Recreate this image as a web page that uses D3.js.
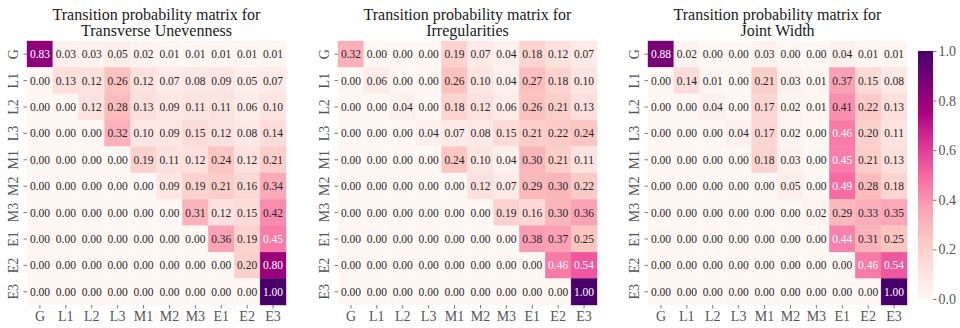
<!DOCTYPE html>
<html>
<head>
<meta charset="utf-8">
<script src="https://cdn.jsdelivr.net/npm/d3@7"></script>
<style>
  html, body { margin: 0; padding: 0; background: #fff; }
  svg { display: block; }
  svg text { font-family: "Liberation Serif", "Times New Roman", serif; }
</style>
</head>
<body>
<svg id="chart" width="960" height="328"></svg>
<script>
// Condition states, in transition order
const states = ["G", "L1", "L2", "L3", "M1", "M2", "M3", "E1", "E2", "E3"];

// Transition probability matrices (row = from state, column = to state)
const transverseUnevenness = [
  [0.83, 0.03, 0.03, 0.05, 0.02, 0.01, 0.01, 0.01, 0.01, 0.01],
  [0.00, 0.13, 0.12, 0.26, 0.12, 0.07, 0.08, 0.09, 0.05, 0.07],
  [0.00, 0.00, 0.12, 0.28, 0.13, 0.09, 0.11, 0.11, 0.06, 0.10],
  [0.00, 0.00, 0.00, 0.32, 0.10, 0.09, 0.15, 0.12, 0.08, 0.14],
  [0.00, 0.00, 0.00, 0.00, 0.19, 0.11, 0.12, 0.24, 0.12, 0.21],
  [0.00, 0.00, 0.00, 0.00, 0.00, 0.09, 0.19, 0.21, 0.16, 0.34],
  [0.00, 0.00, 0.00, 0.00, 0.00, 0.00, 0.31, 0.12, 0.15, 0.42],
  [0.00, 0.00, 0.00, 0.00, 0.00, 0.00, 0.00, 0.36, 0.19, 0.45],
  [0.00, 0.00, 0.00, 0.00, 0.00, 0.00, 0.00, 0.00, 0.20, 0.80],
  [0.00, 0.00, 0.00, 0.00, 0.00, 0.00, 0.00, 0.00, 0.00, 1.00]
];

const irregularities = [
  [0.32, 0.00, 0.00, 0.00, 0.19, 0.07, 0.04, 0.18, 0.12, 0.07],
  [0.00, 0.06, 0.00, 0.00, 0.26, 0.10, 0.04, 0.27, 0.18, 0.10],
  [0.00, 0.00, 0.04, 0.00, 0.18, 0.12, 0.06, 0.26, 0.21, 0.13],
  [0.00, 0.00, 0.00, 0.04, 0.07, 0.08, 0.15, 0.21, 0.22, 0.24],
  [0.00, 0.00, 0.00, 0.00, 0.24, 0.10, 0.04, 0.30, 0.21, 0.11],
  [0.00, 0.00, 0.00, 0.00, 0.00, 0.12, 0.07, 0.29, 0.30, 0.22],
  [0.00, 0.00, 0.00, 0.00, 0.00, 0.00, 0.19, 0.16, 0.30, 0.36],
  [0.00, 0.00, 0.00, 0.00, 0.00, 0.00, 0.00, 0.38, 0.37, 0.25],
  [0.00, 0.00, 0.00, 0.00, 0.00, 0.00, 0.00, 0.00, 0.46, 0.54],
  [0.00, 0.00, 0.00, 0.00, 0.00, 0.00, 0.00, 0.00, 0.00, 1.00]
];

const jointWidth = [
  [0.88, 0.02, 0.00, 0.00, 0.03, 0.00, 0.00, 0.04, 0.01, 0.01],
  [0.00, 0.14, 0.01, 0.00, 0.21, 0.03, 0.01, 0.37, 0.15, 0.08],
  [0.00, 0.00, 0.04, 0.00, 0.17, 0.02, 0.01, 0.41, 0.22, 0.13],
  [0.00, 0.00, 0.00, 0.04, 0.17, 0.02, 0.00, 0.46, 0.20, 0.11],
  [0.00, 0.00, 0.00, 0.00, 0.18, 0.03, 0.00, 0.45, 0.21, 0.13],
  [0.00, 0.00, 0.00, 0.00, 0.00, 0.05, 0.00, 0.49, 0.28, 0.18],
  [0.00, 0.00, 0.00, 0.00, 0.00, 0.00, 0.02, 0.29, 0.33, 0.35],
  [0.00, 0.00, 0.00, 0.00, 0.00, 0.00, 0.00, 0.44, 0.31, 0.25],
  [0.00, 0.00, 0.00, 0.00, 0.00, 0.00, 0.00, 0.00, 0.46, 0.54],
  [0.00, 0.00, 0.00, 0.00, 0.00, 0.00, 0.00, 0.00, 0.00, 1.00]
];

const panelTitles = [
  ["Transition probability matrix for", "Transverse Unevenness"],
  ["Transition probability matrix for", "Irregularities"],
  ["Transition probability matrix for", "Joint Width"]
];
const panelMatrices = [transverseUnevenness, irregularities, jointWidth];

const colorbarTicks = [0, 0.2, 0.4, 0.6, 0.8, 1.0];

// RdPu control colours, interpolated linearly
const rdpu = ["#fff7f3", "#fde0dd", "#fcc5c0", "#fa9fb5", "#f768a1",
              "#dd3497", "#ae017e", "#7a0177", "#49006a"];
const color = d3.scaleLinear()
  .domain(rdpu.map((_, i) => i / (rdpu.length - 1)))
  .range(rdpu)
  .interpolate(d3.interpolateRgb)
  .clamp(true);

// Pick light or dark annotation text from the cell's relative luminance
function luminance(c) {
  const rgb = d3.rgb(c);
  const lin = v => { v /= 255; return v <= 0.03928 ? v / 12.92 : Math.pow((v + 0.055) / 1.055, 2.4); };
  return 0.2126 * lin(rgb.r) + 0.7152 * lin(rgb.g) + 0.0722 * lin(rgb.b);
}

const serif = "Liberation Serif, Times New Roman, serif";
const svg = d3.select("#chart");
const panelLeft = [27, 338, 648];
const gridWidth = 259;
const gridTop = 41, gridBottom = 305;
const tickColor = "#555";

panelMatrices.forEach((matrix, p) => {
  const x = d3.scaleBand().domain(states).range([panelLeft[p], panelLeft[p] + gridWidth]);
  const y = d3.scaleBand().domain(states).range([gridTop, gridBottom]);
  const g = svg.append("g");

  const cells = matrix.flatMap((row, i) => row.map((v, j) => ({ from: states[i], to: states[j], v })));

  g.selectAll("rect.cell").data(cells).join("rect")
    .attr("class", "cell")
    .attr("x", d => x(d.to))
    .attr("y", d => y(d.from))
    .attr("width", x.bandwidth())
    .attr("height", y.bandwidth())
    .attr("fill", d => color(d.v))
    .attr("stroke", d => color(d.v))
    .attr("stroke-width", 0.4);

  g.selectAll("text.val").data(cells).join("text")
    .attr("class", "val")
    .attr("x", d => x(d.to) + x.bandwidth() / 2)
    .attr("y", d => y(d.from) + y.bandwidth() / 2)
    .attr("dy", "0.35em")
    .attr("text-anchor", "middle")
    .attr("font-family", serif)
    .attr("font-size", 11.5)
    .attr("fill", d => luminance(color(d.v)) > 0.408 ? "#262626" : "#ffffff")
    .text(d => d.v.toFixed(2));

  // Bottom axis: destination state
  const xAxis = g.append("g")
    .attr("transform", `translate(0,${gridBottom})`)
    .call(d3.axisBottom(x).tickSize(3.5).tickPadding(2.5));
  xAxis.select(".domain").remove();
  xAxis.selectAll("line").attr("stroke", tickColor).attr("stroke-width", 0.8);
  xAxis.selectAll("text").attr("font-size", 14).attr("fill", tickColor)
    .attr("font-family", serif);

  // Left axis: origin state, labels turned upright
  const yAxis = g.append("g")
    .attr("transform", `translate(${panelLeft[p]},0)`)
    .call(d3.axisLeft(y).tickSize(3.5));
  yAxis.select(".domain").remove();
  yAxis.selectAll("line").attr("stroke", tickColor).attr("stroke-width", 0.8);
  yAxis.selectAll("text")
    .attr("transform", "rotate(-90)")
    .attr("x", 0).attr("y", -9).attr("dy", 0)
    .attr("text-anchor", "middle")
    .attr("font-size", 14).attr("fill", tickColor)
    .attr("font-family", serif);

  // Two-line title
  const cx = panelLeft[p] + gridWidth / 2;
  g.append("text")
    .attr("x", cx).attr("y", 20)
    .attr("text-anchor", "middle")
    .attr("font-family", serif)
    .attr("font-size", 16)
    .attr("fill", "#1a1a1a")
    .selectAll("tspan").data(panelTitles[p]).join("tspan")
    .attr("x", cx)
    .attr("dy", (d, i) => i === 0 ? 0 : 15.5)
    .text(d => d);
});

// Colour bar
const cbX = 918, cbW = 15;
const cScale = d3.scaleLinear().domain([0, 1]).range([299, 51]);
const defs = svg.append("defs");
const grad = defs.append("linearGradient")
  .attr("id", "cbGrad").attr("x1", 0).attr("y1", 1).attr("x2", 0).attr("y2", 0);
grad.selectAll("stop").data(rdpu).join("stop")
  .attr("offset", (d, i) => i / (rdpu.length - 1))
  .attr("stop-color", d => d);
svg.append("rect")
  .attr("x", cbX).attr("y", cScale(1))
  .attr("width", cbW).attr("height", cScale(0) - cScale(1))
  .attr("fill", "url(#cbGrad)");
const cAxis = svg.append("g")
  .attr("transform", `translate(${cbX + cbW},0)`)
  .call(d3.axisRight(cScale).tickValues(colorbarTicks).tickFormat(d3.format(".1f")).tickSize(3.5).tickPadding(2));
cAxis.select(".domain").remove();
cAxis.selectAll("line").attr("stroke", tickColor).attr("stroke-width", 0.8);
cAxis.selectAll("text").attr("font-size", 14).attr("fill", tickColor)
  .attr("font-family", serif);
</script>
</body>
</html>
